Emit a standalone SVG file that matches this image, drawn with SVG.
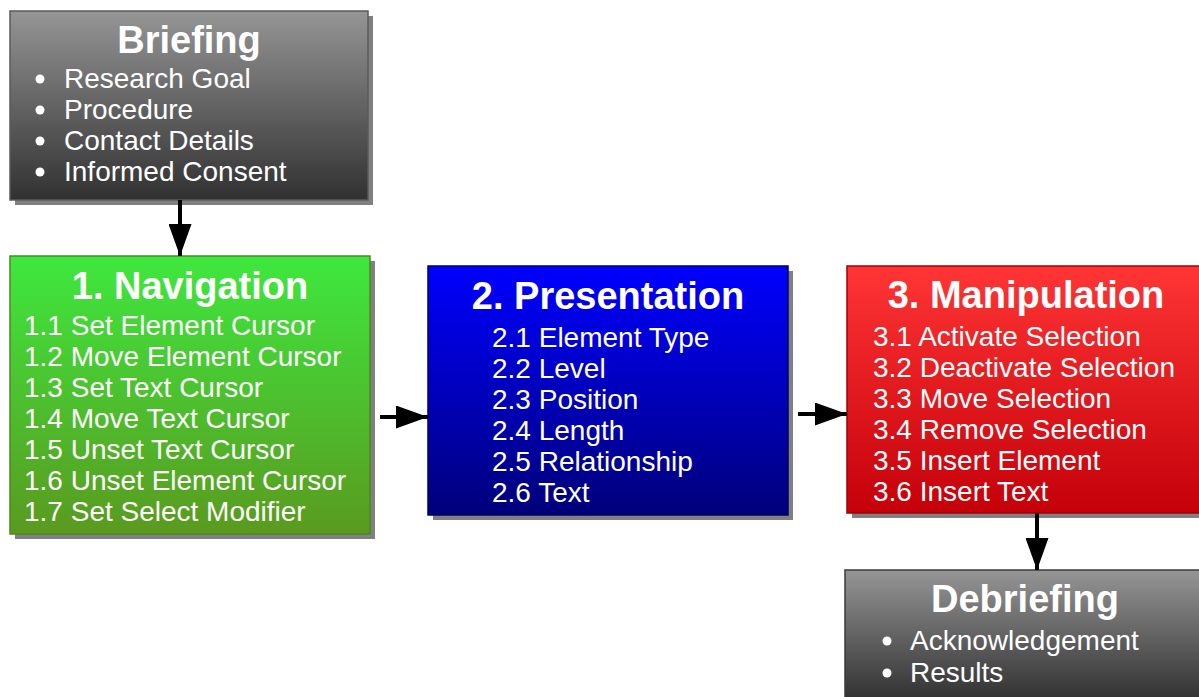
<svg xmlns="http://www.w3.org/2000/svg" width="1199" height="697" viewBox="0 0 1199 697">
<defs>
<linearGradient id="gGrey" x1="0" y1="0" x2="0" y2="1"><stop offset="0" stop-color="#959595"/><stop offset="1" stop-color="#313131"/></linearGradient>
<linearGradient id="gGreen" x1="0" y1="0" x2="0" y2="1"><stop offset="0" stop-color="#3ee83e"/><stop offset="1" stop-color="#5a9a1f"/></linearGradient>
<linearGradient id="gBlue" x1="0" y1="0" x2="0" y2="1"><stop offset="0" stop-color="#0000ff"/><stop offset="1" stop-color="#00007a"/></linearGradient>
<linearGradient id="gRed" x1="0" y1="0" x2="0" y2="1"><stop offset="0" stop-color="#ff3535"/><stop offset="1" stop-color="#c40009"/></linearGradient>
<marker id="ah" viewBox="0 0 32 23" refX="32" refY="11.5" markerWidth="32" markerHeight="23" markerUnits="userSpaceOnUse" orient="auto"><path d="M0,0 L32,11.5 L0,23 Z" fill="#000"/></marker>
</defs>
<style>
.shadow{fill:#808080}
.title{font-family:"Liberation Sans",Arial,sans-serif;font-weight:bold;font-size:38px;fill:#fff;text-anchor:middle}
.item{font-family:"Liberation Sans",Arial,sans-serif;font-size:28px;fill:#fff}
.bullet{fill:#fff}
.conn{stroke:#000;stroke-width:4;fill:none}
</style>
<g id="briefing">
<rect class="shadow" x="15" y="16" width="358" height="189"/>
<rect x="10" y="11" width="358" height="189" fill="url(#gGrey)" stroke="#5a5a5a" stroke-width="1.5"/>
<text class="title" x="189" y="53">Briefing</text>
<circle class="bullet" cx="40" cy="79" r="4.5"/>
<circle class="bullet" cx="40" cy="110" r="4.5"/>
<circle class="bullet" cx="40" cy="141" r="4.5"/>
<circle class="bullet" cx="40" cy="172" r="4.5"/>
<text class="item" x="64" y="88">Research Goal</text>
<text class="item" x="64" y="119">Procedure</text>
<text class="item" x="64" y="150">Contact Details</text>
<text class="item" x="64" y="181">Informed Consent</text>
</g>
<g id="navigation">
<rect class="shadow" x="15" y="261" width="360" height="278"/>
<rect x="10" y="256" width="360" height="278" fill="url(#gGreen)" stroke="#4a8a1a" stroke-width="1.5"/>
<text class="title" x="190" y="299">1. Navigation</text>
<text class="item" x="24" y="335">1.1 Set Element Cursor</text>
<text class="item" x="24" y="366">1.2 Move Element Cursor</text>
<text class="item" x="24" y="397">1.3 Set Text Cursor</text>
<text class="item" x="24" y="428">1.4 Move Text Cursor</text>
<text class="item" x="24" y="459">1.5 Unset Text Cursor</text>
<text class="item" x="24" y="490">1.6 Unset Element Cursor</text>
<text class="item" x="24" y="521">1.7 Set Select Modifier</text>
</g>
<g id="presentation">
<rect class="shadow" x="433" y="271" width="360" height="249"/>
<rect x="428" y="266" width="360" height="249" fill="url(#gBlue)" stroke="#000060" stroke-width="1.5"/>
<text class="title" x="608" y="309">2. Presentation</text>
<text class="item" x="492" y="347">2.1 Element Type</text>
<text class="item" x="492" y="378">2.2 Level</text>
<text class="item" x="492" y="409">2.3 Position</text>
<text class="item" x="492" y="440">2.4 Length</text>
<text class="item" x="492" y="471">2.5 Relationship</text>
<text class="item" x="492" y="502">2.6 Text</text>
</g>
<g id="manipulation">
<rect class="shadow" x="852" y="271" width="358" height="247"/>
<rect x="847" y="266" width="358" height="247" fill="url(#gRed)" stroke="#a00008" stroke-width="1.5"/>
<text class="title" x="1026" y="308">3. Manipulation</text>
<text class="item" x="873" y="346">3.1 Activate Selection</text>
<text class="item" x="873" y="377">3.2 Deactivate Selection</text>
<text class="item" x="873" y="408">3.3 Move Selection</text>
<text class="item" x="873" y="439">3.4 Remove Selection</text>
<text class="item" x="873" y="470">3.5 Insert Element</text>
<text class="item" x="873" y="501">3.6 Insert Text</text>
</g>
<g id="debriefing">
<rect class="shadow" x="850" y="575" width="358" height="130"/>
<rect x="845" y="570" width="358" height="130" fill="url(#gGrey)" stroke="#3a3a3a" stroke-width="1.5"/>
<text class="title" x="1025" y="612">Debriefing</text>
<circle class="bullet" cx="887" cy="641" r="4.5"/>
<circle class="bullet" cx="887" cy="673" r="4.5"/>
<text class="item" x="910" y="650">Acknowledgement</text>
<text class="item" x="910" y="682">Results</text>
</g>
<g id="connectors">
<line class="conn" x1="180" y1="200" x2="180" y2="256" marker-end="url(#ah)"/>
<line class="conn" x1="380" y1="417" x2="428" y2="417" marker-end="url(#ah)"/>
<line class="conn" x1="798" y1="414" x2="847" y2="414" marker-end="url(#ah)"/>
<line class="conn" x1="1037" y1="513" x2="1037" y2="570" marker-end="url(#ah)"/>
</g>
</svg>
